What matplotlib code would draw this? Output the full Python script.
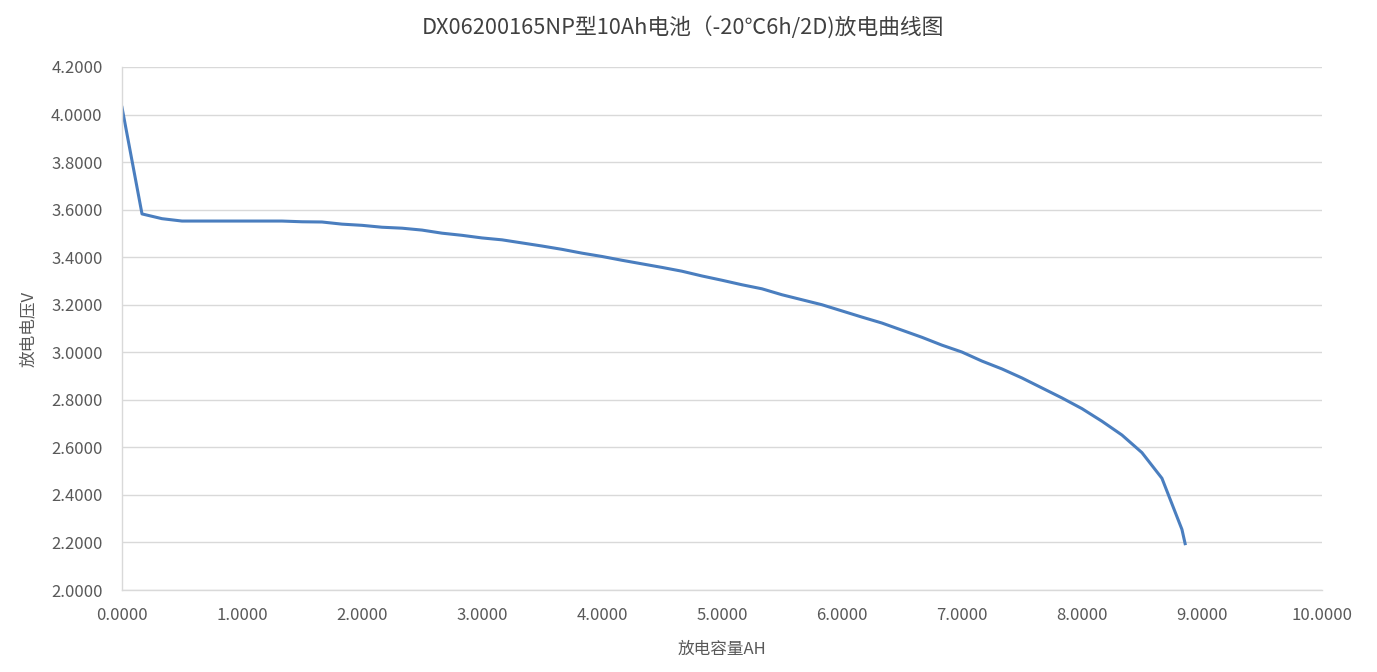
import matplotlib

matplotlib.use("Agg")
import matplotlib.pyplot as plt
from matplotlib.ticker import FormatStrFormatter, MultipleLocator

plt.rcParams["font.family"] = ["Noto Sans CJK SC", "DejaVu Sans"]

TITLE = "DX06200165NP型10Ah电池（-20℃6h/2D)放电曲线图"
X_LABEL = "放电容量AH"
Y_LABEL = "放电电压V"

# capacity (Ah), read every ~10 min of discharge
capacity = [0.0, 0.1667, 0.3333, 0.5, 0.6667, 0.8333, 1.0, 1.1667, 1.3333, 1.5,
            1.6667, 1.8333, 2.0, 2.1667, 2.3333, 2.5, 2.6667, 2.8333, 3.0, 3.1667,
            3.3333, 3.5, 3.6667, 3.8333, 4.0, 4.1667, 4.3333, 4.5, 4.6667, 4.8333,
            5.0, 5.1667, 5.3333, 5.5, 5.6667, 5.8333, 6.0, 6.1667, 6.3333, 6.5,
            6.6667, 6.8333, 7.0, 7.1667, 7.3333, 7.5, 7.6667, 7.8333, 8.0, 8.1667,
            8.3333, 8.5, 8.6667, 8.8333, 8.86]
voltage = [4.030, 3.582, 3.562, 3.552, 3.552, 3.552, 3.552, 3.552, 3.552, 3.549,
           3.548, 3.539, 3.534, 3.526, 3.522, 3.514, 3.501, 3.492, 3.481, 3.473,
           3.460, 3.447, 3.433, 3.417, 3.403, 3.387, 3.372, 3.357, 3.341, 3.321,
           3.303, 3.284, 3.267, 3.242, 3.221, 3.200, 3.174, 3.148, 3.123, 3.093,
           3.063, 3.030, 3.001, 2.963, 2.930, 2.892, 2.850, 2.808, 2.763, 2.710,
           2.652, 2.578, 2.470, 2.255, 2.195]

fig = plt.figure(figsize=(13.77, 6.72), dpi=100)
ax = fig.add_axes([0.0886, 0.122, 0.8714, 0.7783])

ax.plot(capacity, voltage, color="#4a7ebf", linewidth=2.2, solid_joinstyle="round")

ax.set_xlim(0, 10)
ax.set_ylim(2.0, 4.2)
ax.xaxis.set_major_locator(MultipleLocator(1))
ax.yaxis.set_major_locator(MultipleLocator(0.2))
ax.xaxis.set_major_formatter(FormatStrFormatter("%.4f"))
ax.yaxis.set_major_formatter(FormatStrFormatter("%.4f"))

ax.grid(axis="y", color="#d9d9d9", linewidth=1)
ax.set_axisbelow(True)
for side in ("top", "right"):
    ax.spines[side].set_visible(False)
for side in ("left", "bottom"):
    ax.spines[side].set_color("#d9d9d9")
    ax.spines[side].set_linewidth(1)

ax.tick_params(length=0, labelsize=12, labelcolor="#595959")
ax.tick_params(axis="x", pad=12)
ax.tick_params(axis="y", pad=14)

ax.set_xlabel(X_LABEL, fontsize=12, color="#595959", labelpad=12)
ax.set_ylabel(Y_LABEL, fontsize=12, color="#595959", labelpad=10)
fig.suptitle(TITLE, x=0.4956, y=0.977, fontsize=15.7, color="#404040")

fig.savefig("out.png", dpi=100)
plt.close(fig)
